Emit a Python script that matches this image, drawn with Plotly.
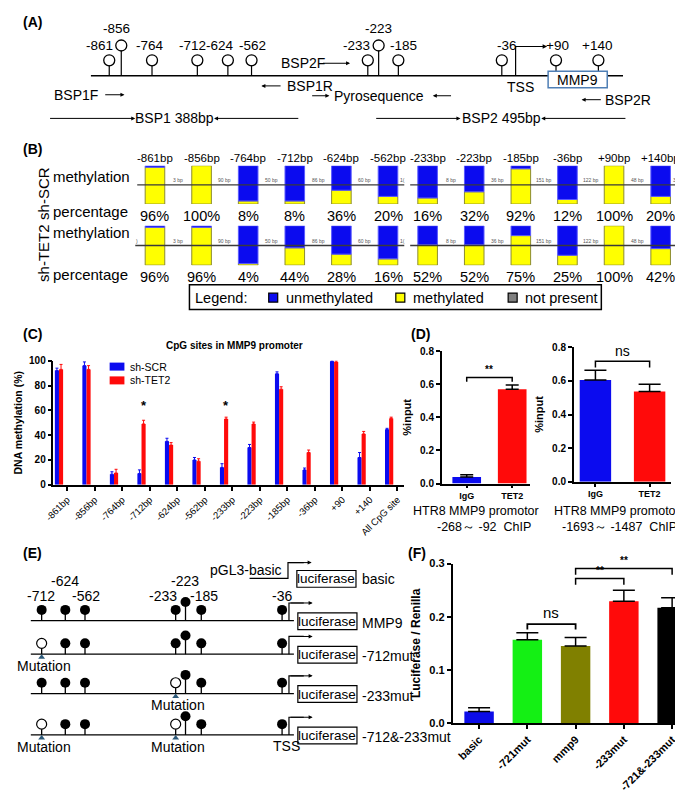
import plotly.graph_objects as go

W, H = 683, 796
FONT = "Liberation Sans, Arial, sans-serif"
BLUE = "#0b0bef"
RED = "#ff0a0a"
YEL = "#ffff00"

# ---------------- data ----------------
# Panel A / B : CpG sites in the MMP9 promoter
cpg_sites = ["-861", "-856", "-764", "-712", "-624", "-562",
             "-233", "-223", "-185", "-36", "+90", "+140"]
b_site_labels = [s + "bp" for s in cpg_sites]
meth_scr = [96, 100, 8, 8, 36, 20, 16, 32, 92, 12, 100, 20]
meth_tet2 = [96, 96, 4, 44, 28, 16, 52, 52, 75, 25, 100, 42]
gap_bp = ["3 bp", "90 bp", "50 bp", "86 bp", "60 bp", None,
          "8 bp", "36 bp", "151 bp", "122 bp", "48 bp"]

# Panel C
c_series = ["sh-SCR", "sh-TET2"]
c_categories = ["-861bp", "-856bp", "-764bp", "-712bp", "-624bp", "-562bp",
                "-233bp", "-223bp", "-185bp", "-36bp", "+90", "+140", "All CpG site"]
c_scr = [92, 96, 8.5, 9, 35, 20, 14, 30, 89.5, 12, 99.5, 22, 44.5]
c_scr_err = [2, 3, 2, 3, 2.5, 2, 3, 2.5, 1.5, 1.5, 0.5, 4, 1]
c_tet2 = [93, 93, 9.5, 49, 32, 19, 53, 49, 77, 26, 99, 41, 53.5]
c_tet2_err = [4, 3, 3, 3, 2, 2, 1.5, 1.5, 2, 2, 1, 2, 1]
c_star_sites = ["-712bp", "-233bp"]
c_star_level = 64

# Panel D
d_groups = ["IgG", "TET2"]
d1_vals = [0.04, 0.57]
d1_err = [0.013, 0.025]
d2_vals = [0.605, 0.537]
d2_err = [0.058, 0.043]

# Panel E
e_sites = ["-712", "-624", "-562", "-233", "-223", "-185", "-36"]
e_constructs = ["MMP9", "-712mut", "-233mut", "-712&-233mut"]
e_mutated = [[], ["-712"], ["-233"], ["-712", "-233"]]

# Panel F
f_groups = ["basic", "-721mut", "mmp9", "-233mut", "-721&-233mut"]
f_vals = [0.022, 0.157, 0.145, 0.229, 0.217]
f_err = [0.007, 0.013, 0.016, 0.021, 0.019]
f_colors = ["#0c0ce8", "#14f014", "#808000", "#ff0a0a", "#000000"]

# ---------------- schematic layout (pixel frame) ----------------
A_site_x = {"-861": 92.6, "-856": 104.8, "-764": 136, "-712": 182, "-624": 213, "-562": 237,
            "-233": 355, "-223": 366, "-185": 386, "-36": 491, "+90": 546, "+140": 589}
A_label_x = {"-861": 83, "-856": 100, "-764": 134, "-712": 177, "-624": 205, "-562": 238,
             "-233": 344, "-223": 366, "-185": 391, "-36": 496, "+90": 548, "+140": 588}
A_tall = ["-856", "-223"]
E_site_x = {"-712": 24, "-624": 48, "-562": 68, "-233": 160, "-223": 170, "-185": 186, "-36": 268}
E_label_xy = {"-712": (23, 591), "-624": (48, 576), "-562": (69, 591), "-233": (147, 591),
              "-223": (169, 576), "-185": (189, 591), "-36": (268, 591)}
E_tall = ["-223"]
E_rows_y = [616, 650, 690, 732]
B_pos = [0, 1, 2, 3, 4, 5, 5.85, 6.85, 7.85, 8.85, 9.85, 10.85]
B_x0, B_dx = 139.0, 47.3

fig = go.Figure()
annotations = []
shapes = []


def T(x, y, s, size=13, xa="center", ya="middle", bold=False, color="black",
      xref="x9", yref="y9", angle=0, **kw):
    annotations.append(dict(x=x, y=y, xref=xref, yref=yref,
                            text=f"<b>{s}</b>" if bold else s, showarrow=False,
                            xanchor=xa, yanchor=ya, textangle=angle,
                            font=dict(family=FONT, size=size, color=color), **kw))


def ARW(x0, y0, x1, y1, width=1, head=2, size=1.0):
    annotations.append(dict(x=x1, y=y1, ax=x0, ay=y0, xref="x9", yref="y9",
                            axref="x9", ayref="y9", text="", showarrow=True,
                            arrowhead=head, arrowsize=size, arrowwidth=width,
                            arrowcolor="black", standoff=0, startstandoff=0))


def LINE(xs, ys, xaxis="x9", yaxis="y9", width=1.2, color="black"):
    fig.add_trace(go.Scatter(x=xs, y=ys, xaxis=xaxis, yaxis=yaxis, mode="lines",
                             line=dict(color=color, width=width), showlegend=False,
                             hoverinfo="skip", cliponaxis=False))


def RECT(x0, y0, x1, y1, color="black", width=1.2, fill="white"):
    shapes.append(dict(type="rect", xref="x9", yref="y9", x0=x0, x1=x1, y0=y0, y1=y1,
                       line=dict(color=color, width=width), fillcolor=fill, layer="above"))


# panel letters
for lab, (x, y) in {"(A)": (3, 8), "(B)": (3, 137), "(C)": (3, 325), "(D)": (397, 325),
                    "(E)": (3, 547), "(F)": (394, 547)}.items():
    T(x, y, lab, size=14, xa="left", bold=True)

# ---------------- Panel A ----------------
ybA = 62.7
LINE([74, 614], [ybA, ybA], width=1.3)
sx, sy, cx, cy = [], [], [], []
for s in cpg_sites:
    x = A_site_x[s]
    c = 32 if s in A_tall else 47
    sx += [x, x, None]
    sy += [ybA, c + 5, None]
    cx.append(x)
    cy.append(c)
    T(A_label_x[s], 15 if s in A_tall else 32, s, size=13.5)
LINE(sx, sy, width=1.2)
fig.add_trace(go.Scatter(x=cx, y=cy, xaxis="x9", yaxis="y9", mode="markers",
                         marker=dict(symbol="circle-open", size=11, color="black",
                                     line=dict(width=1.3)),
                         showlegend=False, hoverinfo="skip"))
LINE([505, 505, 528], [ybA, 33, 33])
ARW(505, 33, 537, 33, size=0.9)
RECT(538, 58, 598, 75, color="#4f7fb5", width=1.5)
T(568, 66.5, "MMP9", size=14)
T(510, 74, "TSS", size=14)
T(289, 50, "BSP2F", size=14)
ARW(308, 50, 337, 50, size=0.8)
ARW(268, 73, 247, 73, size=0.8)
T(271, 73, "BSP1R", size=14, xa="left")
T(59, 82, "BSP1F", size=14)
ARW(87, 82, 108, 82, size=0.8)
ARW(297, 83, 316, 83, size=0.8)
T(366, 83, "Pyrosequence", size=14)
ARW(441, 83, 421, 83, size=0.8)
ARW(593, 87, 572, 87, size=0.8)
T(594, 87, "BSP2R", size=14, xa="left")
ARW(31, 106, 119, 106, size=0.8)
T(159, 106, "BSP1 388bp", size=14)
ARW(286, 106, 199, 106, size=0.8)
ARW(362, 106, 449, 106, size=0.8)
T(491, 106, "BSP2 495bp", size=14)
ARW(618, 106, 531, 106, size=0.8)

# ---------------- Panel B ----------------
def k_of(px):
    return (px - B_x0) / B_dx


for row, (vals, xa, ya) in enumerate([(meth_scr, "x5", "y5"), (meth_tet2, "x6", "y6")]):
    # backbone lines (broken between -562 and -233)
    LINE([k_of(119 if row else 121), k_of(392)], [50, 50], xa, ya, width=1.4, color="#3a3a3a")
    LINE([k_of(398), k_of(683)], [50, 50], xa, ya, width=1.4, color="#3a3a3a")
    fig.add_trace(go.Bar(x=B_pos, y=vals, base=0, width=0.42, xaxis=xa, yaxis=ya,
                         marker=dict(color=YEL, line=dict(color="#8c8c30", width=1)),
                         showlegend=False, hoverinfo="skip"))
    fig.add_trace(go.Bar(x=B_pos, y=[100 - v if v < 100 else None for v in vals], base=vals,
                         width=0.42, xaxis=xa, yaxis=ya,
                         marker=dict(color=BLUE, line=dict(color="#5a5aff", width=1)),
                         showlegend=False, hoverinfo="skip"))
    for j, g in enumerate(gap_bp):
        if g:
            T((B_pos[j] + B_pos[j + 1]) / 2, 62, g, size=5, color="#555555", xref=xa, yref=ya)
    T(k_of(390), 62, "1(", size=5, color="#555555", xref=xa, yref=ya)
    T(k_of(674), 62, "3 b" if row == 0 else "5", size=5, color="#555555", xref=xa, yref=ya,
      xa="right")
    if row:
        T(k_of(121), 62, ")", size=5, color="#555555", xref=xa, yref=ya)
    for k, v in zip(B_pos, vals):
        T(k, 0, f"{v}%", size=14.5, ya="top", xref=xa, yref=ya, yshift=-2)
    if row == 0:
        for k, s in zip(B_pos, b_site_labels):
            T(k, 100, s, size=11.5, ya="bottom", xref=xa, yref=ya, yshift=0)

T(33, 165, "methylation", size=15, xa="left")
T(33, 201, "percentage", size=15, xa="left")
T(33, 222, "methylation", size=15, xa="left")
T(33, 264, "percentage", size=15, xa="left")
T(26, 182, "sh-SCR", size=15, angle=-90)
T(26, 243, "sh-TET2", size=15, angle=-90)
RECT(174, 275, 592, 300, color="black", width=1.5, fill="rgba(0,0,0,0)")
T(178, 288, "Legend:", size=14.5, xa="left")
fig.add_trace(go.Scatter(x=[259, 388, 502], y=[288, 288, 288], xaxis="x9", yaxis="y9",
                         mode="markers",
                         marker=dict(symbol="square", size=9, color=[BLUE, YEL, "#808080"],
                                     line=dict(color="black", width=1.2)),
                         showlegend=False, hoverinfo="skip"))
T(270, 288, "unmethylated", size=14.5, xa="left")
T(399, 288, "methylated", size=14.5, xa="left")
T(513, 288, "not present", size=14.5, xa="left")

# ---------------- Panel C ----------------
xc = list(range(len(c_categories)))
fig.add_trace(go.Bar(x=xc, y=c_scr, name=c_series[0], offset=-0.45, width=0.15,
                     marker=dict(color=BLUE, line=dict(width=0)),
                     error_y=dict(type="data", array=c_scr_err, symmetric=False,
                                  arrayminus=[0] * len(c_scr), color=BLUE, thickness=1, width=1.5),
                     xaxis="x", yaxis="y", showlegend=False))
fig.add_trace(go.Bar(x=xc, y=c_tet2, name=c_series[1], offset=-0.30, width=0.15,
                     marker=dict(color=RED, line=dict(width=0)),
                     error_y=dict(type="data", array=c_tet2_err, symmetric=False,
                                  arrayminus=[0] * len(c_tet2), color=RED, thickness=1, width=1.5),
                     xaxis="x", yaxis="y", showlegend=False))
for s in c_star_sites:
    T(c_categories.index(s) - 0.225, c_star_level, "*", size=13, bold=True, xref="x", yref="y")
T(220, 337, "CpG sites in MMP9 promoter", size=10, bold=True)
# legend for panel C
for name, col, yy in zip(c_series, [BLUE, RED], [358, 372]):
    LINE([93, 108], [yy, yy], width=8, color=col)
    T(112, yy, name, size=10.5, xa="left")

# ---------------- Panel D ----------------
for vals, errs, xa, ya, w in [(d1_vals, d1_err, "x2", "y2", 0.63), (d2_vals, d2_err, "x3", "y3", 0.58)]:
    fig.add_trace(go.Bar(x=[0, 1], y=vals, width=w, xaxis=xa, yaxis=ya,
                         marker=dict(color=[BLUE, RED], line=dict(width=0)),
                         error_y=dict(type="data", array=errs, symmetric=False, arrayminus=[0, 0],
                                      color="black", thickness=1.5, width=6.5 if xa == "x2" else 11),
                         showlegend=False, hoverinfo="skip"))
LINE([0, 0, 1, 1], [0.615, 0.64, 0.64, 0.615], "x2", "y2", width=1.5)
T(0.5, 0.645, "**", size=10, bold=True, ya="bottom", xref="x2", yref="y2")
LINE([0, 0, 1, 1], [0.68, 0.716, 0.716, 0.68], "x3", "y3", width=1.5)
T(0.5, 0.72, "ns", size=14, ya="bottom", xref="x3", yref="y3")
T(465, 505, "HTR8 MMP9 promotor", size=12.5)
T(473, 521, "-268\uff5e -92\u00a0\u00a0ChIP", size=12.5)
T(608, 505, "HTR8 MMP9 promotor", size=12.5)
T(610, 521, "-1693\uff5e -1487\u00a0\u00a0ChIP", size=12.5)

# ---------------- Panel E ----------------
ybb = 573
T(270, 565, "pGL3-basic", size=14, xa="right")
LINE([235, 274, 274, 290], [ybb, ybb, 557, 557])
ARW(274, 557, 298, 557, size=0.8)
RECT(283, 565, 343, 582)
T(313, 573, "luciferase", size=13.5)
T(347, 574, "basic", size=14, xa="left")
for s in e_sites:
    T(*E_label_xy[s], s, size=14)
for r, (name, muts) in enumerate(zip(e_constructs, e_mutated)):
    yb = E_rows_y[r]
    LINE([13, 280], [yb, yb], width=1.3)
    stx, sty, fx, fy, ox, oy = [], [], [], [], [], []
    for s in e_sites:
        x = E_site_x[s]
        c = yb - (19 if s in E_tall else 11)
        stx += [x, x, None]
        sty += [yb, c, None]
        if s in muts:
            ox.append(x)
            oy.append(c)
        else:
            fx.append(x)
            fy.append(c)
    LINE(stx, sty, width=1.3)
    fig.add_trace(go.Scatter(x=fx, y=fy, xaxis="x9", yaxis="y9", mode="markers",
                             marker=dict(symbol="circle", size=10, color="black"),
                             showlegend=False, hoverinfo="skip"))
    if ox:
        fig.add_trace(go.Scatter(x=ox, y=oy, xaxis="x9", yaxis="y9", mode="markers",
                                 marker=dict(symbol="circle", size=10, color="white",
                                             line=dict(color="black", width=1.2)),
                                 showlegend=False, hoverinfo="skip"))
        fig.add_trace(go.Scatter(x=ox, y=[yb + 3] * len(ox), xaxis="x9", yaxis="y9",
                                 mode="markers",
                                 marker=dict(symbol="triangle-up", size=6, color="#2d5a7a"),
                                 showlegend=False, hoverinfo="skip"))
        for x in ox:
            T(x + 2, yb + 12, "Mutation", size=14)
    LINE([275, 275, 290], [yb, yb - 18, yb - 18])
    ARW(275, yb - 18, 299, yb - 18, size=0.8)
    RECT(284, yb - 8, 344, yb + 9)
    T(314, yb + 0.5, "luciferase", size=13.5)
    T(347, yb + 2, name, size=14, xa="left")
T(272, 743, "TSS", size=14)

# ---------------- Panel F ----------------
fig.add_trace(go.Bar(x=list(range(len(f_groups))), y=f_vals, width=0.61, xaxis="x4", yaxis="y4",
                     marker=dict(color=f_colors, line=dict(width=0)),
                     error_y=dict(type="data", array=f_err, symmetric=False,
                                  arrayminus=[0] * len(f_err), color="black", thickness=1.5, width=11),
                     showlegend=False, hoverinfo="skip"))
LINE([1, 1, 2, 2], [0.176, 0.186, 0.186, 0.176], "x4", "y4", width=1.8)
T(1.5, 0.189, "ns", size=15, ya="bottom", xref="x4", yref="y4")
LINE([2, 2, 3, 3], [0.26, 0.272, 0.272, 0.26], "x4", "y4", width=1.5)
T(2.5, 0.272, "**", size=10, bold=True, ya="bottom", xref="x4", yref="y4")
LINE([2, 2, 4, 4], [0.279, 0.291, 0.291, 0.279], "x4", "y4", width=1.5)
T(3, 0.291, "**", size=10, bold=True, ya="bottom", xref="x4", yref="y4")

# ---------------- layout ----------------
def ax_style(**kw):
    d = dict(showline=True, linecolor="black", linewidth=1.5, ticks="outside", ticklen=4,
             tickwidth=1.5, tickcolor="black", showgrid=False, zeroline=False, fixedrange=True,
             tickfont=dict(family=FONT, size=10, color="black", weight="bold"))
    d.update(kw)
    return d


def ydom(bottom_px, top_px):
    return [1 - bottom_px / H, 1 - top_px / H]


hidden = dict(visible=False, fixedrange=True, showgrid=False, zeroline=False)

fig.update_layout(
    width=W, height=H, margin=dict(l=0, r=0, t=0, b=0),
    paper_bgcolor="white", plot_bgcolor="rgba(0,0,0,0)",
    barmode="overlay", font=dict(family=FONT, color="black"),
    showlegend=False,
    xaxis=ax_style(domain=[36 / W, 392 / W], range=[-0.5, 12.25], tickvals=xc,
                   ticktext=c_categories, tickangle=-45,
                   tickfont=dict(family=FONT, size=9.5, color="black"), anchor="y"),
    yaxis=ax_style(domain=ydom(478, 352), range=[0, 100], tickvals=[0, 20, 40, 60, 80, 100],
                   title=dict(text="<b>DNA methylation (%)</b>", font=dict(family=FONT, size=10.5),
                              standoff=4), anchor="x"),
    xaxis2=ax_style(domain=[430 / W, 520 / W], range=[-0.55, 1.40], tickvals=[0, 1],
                    ticktext=d_groups, anchor="y2", ticklen=3,
                    tickfont=dict(family=FONT, size=9, color="black", weight="bold")),
    yaxis2=ax_style(domain=ydom(476.7, 342.3), range=[0, 0.8], tickvals=[0, 0.2, 0.4, 0.6, 0.8],
                    tickformat=".1f", anchor="x2",
                    title=dict(text="<b>%input</b>", font=dict(family=FONT, size=11), standoff=6)),
    xaxis3=ax_style(domain=[564 / W, 663 / W], range=[-0.4, 1.4], tickvals=[0, 1],
                    ticktext=d_groups, anchor="y3", ticklen=3,
                    tickfont=dict(family=FONT, size=9, color="black", weight="bold")),
    yaxis3=ax_style(domain=ydom(475, 338.3), range=[0, 0.8], tickvals=[0, 0.2, 0.4, 0.6, 0.8],
                    tickformat=".1f", anchor="x3",
                    title=dict(text="<b>%input</b>", font=dict(family=FONT, size=11), standoff=6)),
    xaxis4=ax_style(domain=[441 / W, 680 / W], range=[-0.55, 4.33],
                    tickvals=list(range(len(f_groups))), ticktext=f_groups, tickangle=-45,
                    tickfont=dict(family=FONT, size=11, color="black", weight="bold"), anchor="y4"),
    yaxis4=ax_style(domain=ydom(720, 558), range=[0, 0.3], tickvals=[0, 0.1, 0.2, 0.3],
                    tickformat=".1f", anchor="x4",
                    tickfont=dict(family=FONT, size=11, color="black", weight="bold"),
                    title=dict(text="<b>Luciferase / Renilla</b>", font=dict(family=FONT, size=12),
                               standoff=6)),
    xaxis5=dict(hidden, domain=[0, 1], range=[k_of(0), k_of(W)], anchor="y5"),
    yaxis5=dict(hidden, domain=ydom(193, 154), range=[0, 100], anchor="x5"),
    xaxis6=dict(hidden, domain=[0, 1], range=[k_of(0), k_of(W)], anchor="y6"),
    yaxis6=dict(hidden, domain=ydom(255, 215), range=[0, 100], anchor="x6"),
    xaxis9=dict(hidden, domain=[0, 1], range=[0, W], anchor="y9"),
    yaxis9=dict(hidden, domain=[0, 1], range=[H, 0], anchor="x9"),
    annotations=annotations, shapes=shapes,
)

fig.write_html("out.html")
